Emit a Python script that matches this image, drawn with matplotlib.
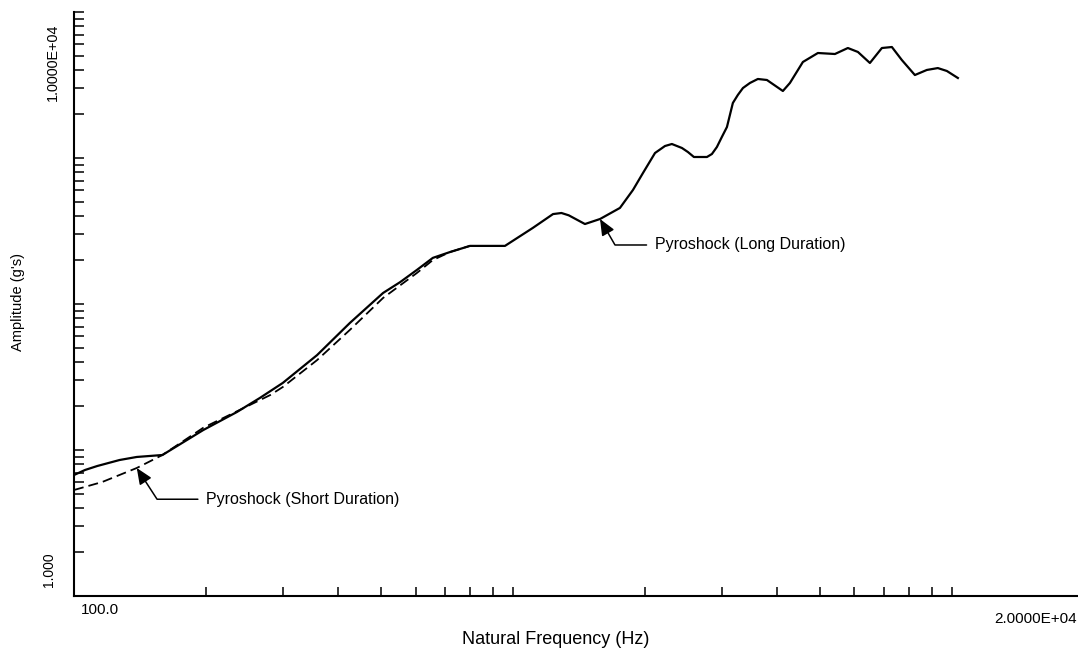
import matplotlib
matplotlib.use("Agg")
import matplotlib.pyplot as plt
from matplotlib.ticker import FixedLocator, NullFormatter

plt.rcParams['font.family'] = ['Liberation Sans', 'DejaVu Sans']

# espectro de choque - pyroshock larga duracion (linea continua)
frecLarga = [100, 106, 113, 127, 139, 159, 197, 235, 265, 299, 358, 425, 506, 553, 604, 657, 719, 798, 959,
             1110, 1234, 1290, 1340, 1459, 1579, 1753, 1877, 1978, 2107, 2220, 2302, 2427, 2504, 2584,
             2767, 2840, 2915, 2992, 3073, 3170, 3254, 3342, 3467, 3614, 3790, 4121, 4276, 4577, 4952,
             5415, 5795, 6109, 6505, 6927, 7300, 7691, 8236, 8770, 9290, 9740, 10320]
ampLarga = [6.74, 7.3, 7.77, 8.54, 8.96, 9.24, 13.7, 18.2, 22.7, 28.8, 44.7, 74.1, 119, 141, 171, 207, 227, 250, 250,
            332, 413, 420, 405, 353, 382, 455, 604, 789, 1082, 1208, 1247, 1171, 1099, 1016,
            1016, 1065, 1189, 1393, 1630, 2382, 2703, 3015, 3265, 3477, 3422, 2877, 3265, 4546, 5238,
            5156, 5667, 5324, 4475, 5667, 5757, 4690, 3701, 4009, 4130, 3945, 3532]

# pyroshock corta duracion (linea punteada)
frecCorta = [100, 116, 139, 159, 197, 280, 299, 358, 425, 506, 604, 657, 719, 798, 959]
ampCorta = [5.32, 6.04, 7.53, 9.24, 14.2, 23.8, 27.0, 41.3, 66.4, 110, 163, 200, 227, 250, 250]

# marcas de los ejes
ticksX = [200, 300, 400, 500, 600, 700, 800, 900, 1000,
          2000, 3000, 4000, 5000, 6000, 7000, 8000, 9000, 10000]
ticksY = [d * m for d in (1, 10, 100, 1000) for m in range(1, 10)] + [10000]

fig = plt.figure(figsize=(10.78, 6.51), dpi=100)
ax = fig.add_axes([74 / 1078, 55 / 651, 1010 / 1078, 584 / 651])

ax.plot(frecCorta, ampCorta, color='black', lw=1.3, dashes=(5.5, 2.8))
ax.plot(frecLarga, ampLarga, color='black', lw=1.6, solid_joinstyle='round')

ax.set_xscale('log')
ax.set_yscale('log')
ax.set_xlim(100, 20000)
ax.set_ylim(1, 10000)

ax.xaxis.set_major_locator(FixedLocator(ticksX))
ax.xaxis.set_minor_locator(FixedLocator([]))
ax.yaxis.set_major_locator(FixedLocator(ticksY))
ax.yaxis.set_minor_locator(FixedLocator([]))
ax.xaxis.set_major_formatter(NullFormatter())
ax.yaxis.set_major_formatter(NullFormatter())
ax.tick_params(axis='x', direction='in', length=6.5, width=1.1, color='black')
ax.tick_params(axis='y', direction='in', length=7.2, width=1.1, color='black')

for lado in ('top', 'right'):
    ax.spines[lado].set_visible(False)
for lado in ('left', 'bottom'):
    ax.spines[lado].set_linewidth(1.5)
    ax.spines[lado].set_color('black')

# textos de los ejes
fig.text(100 / 1078, 1 - 610 / 651, "100.0", fontsize=11, ha='center', va='center')
fig.text(1077 / 1078, 1 - 619 / 651, "2.0000E+04", fontsize=11, ha='right', va='center')
fig.text(556 / 1078, 1 - 639 / 651, "Natural Frequency (Hz)", fontsize=13, ha='center', va='center')
fig.text(53 / 1078, 1 - 62 / 651, "1.0000E+04", fontsize=10.4, rotation=90, ha='center', va='center')
fig.text(49 / 1078, 1 - 570 / 651, "1.000", fontsize=10, rotation=90, ha='center', va='center')
fig.text(18 / 1078, 1 - 302 / 651, "Amplitude (g's)", fontsize=10.5, rotation=90, ha='center', va='center')

flecha = dict(arrowstyle='-|>,head_length=0.7,head_width=0.3', color='black', lw=1.1,
              mutation_scale=14, shrinkA=4, shrinkB=0, relpos=(0, 0.5))

ax.annotate("Pyroshock (Short Duration)", xy=(139, 7.53), xytext=(50, -22.5),
            textcoords='offset points', fontsize=11.5, ha='left', va='center',
            arrowprops=dict(flecha, connectionstyle='angle,angleA=0,angleB=-57,rad=0'))
ax.annotate("Pyroshock (Long Duration)", xy=(1579, 382), xytext=(39.5, -18.7),
            textcoords='offset points', fontsize=11.5, ha='left', va='center',
            arrowprops=dict(flecha, connectionstyle='angle,angleA=0,angleB=-60,rad=0'))

fig.savefig("out.png", dpi=100)
